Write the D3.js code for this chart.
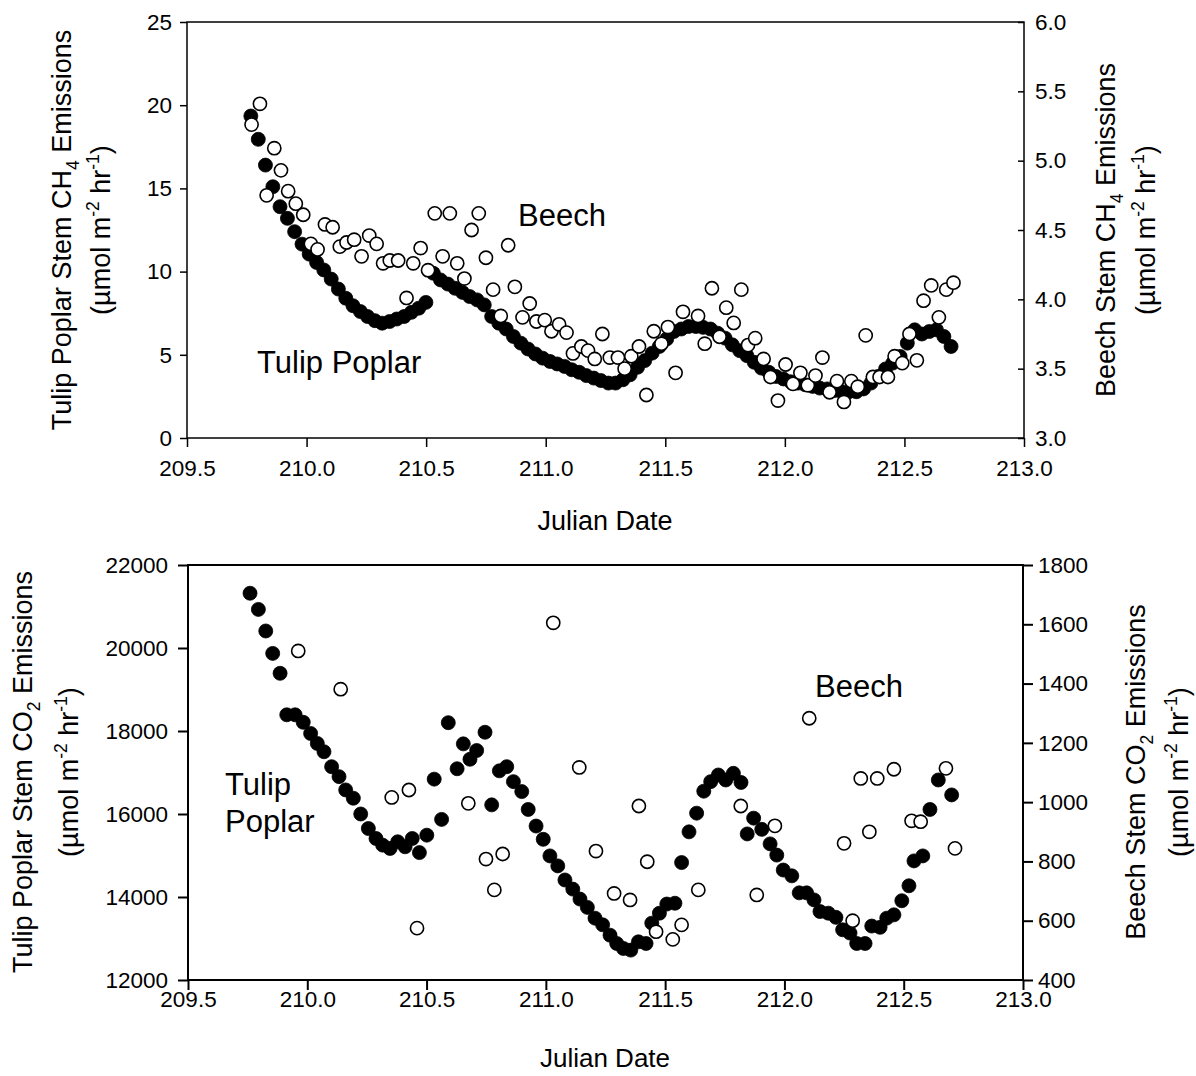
<!DOCTYPE html>
<html><head><meta charset="utf-8">
<script src="https://cdn.jsdelivr.net/npm/d3@7"></script>
<style>
body{margin:0;background:#fff}
text{font-family:"Liberation Sans",Arial,Helvetica,sans-serif;fill:#000}
</style>
</head><body>
<svg id="c" width="1196" height="1076"></svg>
<script>
// ---------- tick values ----------
const xTicks = [209.5, 210.0, 210.5, 211.0, 211.5, 212.0, 212.5, 213.0];
const ch4LeftTicks = [0, 5, 10, 15, 20, 25];
const ch4RightTicks = [3.0, 3.5, 4.0, 4.5, 5.0, 5.5, 6.0];
const co2LeftTicks = [12000, 14000, 16000, 18000, 20000, 22000];
const co2RightTicks = [400, 600, 800, 1000, 1200, 1400, 1600, 1800];

// ---------- CH4: Tulip Poplar (left axis) ----------
const ch4TulipDates = [
209.767,209.798,209.828,209.859,209.889,209.920,209.950,209.981,210.011,210.042,
210.072,210.103,210.133,210.164,210.194,210.225,210.255,210.286,210.316,210.347,
210.377,210.408,210.438,210.469,210.499,210.530,210.560,210.591,210.621,210.652,
210.682,210.713,210.743,210.774,210.804,210.835,210.865,210.896,210.926,210.957,
210.987,211.018,211.048,211.079,211.109,211.140,211.170,211.201,211.231,211.262,
211.292,211.323,211.353,211.384,211.414,211.445,211.475,211.506,211.536,211.567,
211.597,211.628,211.658,211.689,211.719,211.750,211.780,211.811,211.841,211.872,
211.902,211.933,211.963,211.994,212.024,212.055,212.085,212.116,212.146,212.177,
212.207,212.238,212.268,212.299,212.329,212.360,212.390,212.421,212.451,212.482,
212.512,212.543,212.573,212.604,212.634,212.665,212.695];
const ch4Tulip = [
19.35,17.95,16.4,15.1,13.9,13.2,12.4,11.65,11.05,10.55,
10.1,9.55,8.95,8.4,7.95,7.6,7.3,7.05,6.9,7.0,
7.15,7.3,7.55,7.8,8.15,9.9,9.5,9.25,9.0,8.75,
8.5,8.3,8.0,7.3,6.9,6.55,6.1,5.7,5.35,5.05,
4.8,4.6,4.45,4.3,4.1,3.95,3.75,3.6,3.45,3.3,
3.3,3.5,3.8,4.25,4.65,5.1,5.5,5.95,6.4,6.55,
6.7,6.7,6.65,6.55,6.3,6.0,5.6,5.25,4.95,4.55,
4.2,3.95,3.7,3.55,3.38,3.3,3.2,3.1,3.0,2.95,
2.85,2.78,2.78,2.78,2.95,3.3,3.7,4.15,4.5,4.9,
5.7,6.5,6.25,6.4,6.5,6.1,5.5];

// ---------- CH4: Beech (right axis) ----------
const ch4BeechDates = [
209.770,209.805,209.833,209.865,209.893,209.923,209.955,209.986,210.018,210.046,
210.077,210.109,210.139,210.167,210.199,210.230,210.262,210.293,210.320,210.348,
210.383,210.418,210.446,210.477,210.508,210.536,210.569,210.599,210.630,210.660,
210.690,210.720,210.750,210.780,210.812,210.843,210.871,210.903,210.933,210.961,
210.996,211.024,211.056,211.087,211.114,211.149,211.177,211.205,211.237,211.268,
211.302,211.330,211.358,211.390,211.421,211.452,211.484,211.511,211.543,211.574,
211.637,211.665,211.695,211.727,211.755,211.786,211.818,211.846,211.876,211.911,
211.940,211.971,212.003,212.034,212.065,212.096,212.128,212.157,212.187,212.218,
212.247,212.278,212.305,212.338,212.368,212.396,212.431,212.459,212.491,212.521,
212.552,212.580,212.612,212.644,212.675,212.705];
const ch4Beech = [
5.26,5.41,4.75,5.09,4.93,4.78,4.69,4.61,4.40,4.36,
4.54,4.52,4.38,4.41,4.43,4.31,4.46,4.40,4.26,4.28,
4.28,4.01,4.26,4.37,4.21,4.62,4.31,4.62,4.26,4.15,
4.50,4.62,4.30,4.07,3.88,4.39,4.09,3.87,3.97,3.84,
3.85,3.77,3.82,3.76,3.61,3.66,3.63,3.57,3.75,3.58,
3.58,3.50,3.59,3.66,3.31,3.77,3.68,3.80,3.47,3.91,
3.88,3.68,4.08,3.73,3.94,3.83,4.07,3.67,3.72,3.57,
3.44,3.27,3.53,3.39,3.47,3.38,3.45,3.58,3.33,3.41,
3.26,3.41,3.37,3.74,3.44,3.44,3.44,3.59,3.54,3.75,
3.56,3.99,4.10,3.87,4.07,4.12];

// ---------- CO2: Tulip Poplar (left axis) ----------
const co2TulipDates = [
209.760,209.795,209.826,209.855,209.886,209.914,209.949,209.983,210.014,210.042,
210.070,210.102,210.133,210.161,210.193,210.224,210.256,210.288,210.316,210.347,
210.379,210.410,210.440,210.470,210.501,210.532,210.563,210.591,210.628,210.654,
210.682,210.710,210.745,210.773,210.805,210.836,210.864,210.899,210.926,210.959,
210.989,211.017,211.050,211.080,211.113,211.143,211.174,211.206,211.238,211.269,
211.297,211.325,211.356,211.388,211.420,211.444,211.476,211.507,211.541,211.569,
211.600,211.632,211.662,211.691,211.723,211.754,211.786,211.818,211.844,211.871,
211.905,211.940,211.968,211.995,212.031,212.062,212.093,212.124,212.149,212.184,
212.216,212.244,212.275,212.303,212.338,212.366,212.401,212.429,212.459,212.492,
212.522,212.543,212.580,212.610,212.645,212.701];
const co2Tulip = [
21320,20930,20410,19870,19390,18390,18390,18210,17940,17700,
17500,17140,16900,16580,16380,16000,15650,15410,15250,15170,
15330,15210,15410,15070,15490,16840,15870,18200,17090,17690,
17320,17530,17970,16220,17040,17140,16780,16540,16110,15710,
15390,14990,14750,14410,14190,13950,13750,13490,13330,13080,
12880,12760,12720,12920,12880,13370,13610,13830,13850,14830,
15570,16020,16550,16780,16940,16820,16980,16760,15520,15900,
15630,15280,15010,14650,14510,14100,14100,13930,13650,13610,
13510,13210,13130,12880,12880,13300,13270,13490,13570,13910,
14270,14870,14990,16110,16820,16460];

// ---------- CO2: Beech (right axis) ----------
const co2BeechDates = [
209.962,210.140,210.354,210.426,210.460,210.675,210.749,210.784,210.819,211.031,
211.140,211.210,211.286,211.353,211.390,211.425,211.462,211.532,211.569,211.639,
211.817,211.884,211.960,212.104,212.250,212.286,212.320,212.356,212.389,212.459,
212.533,212.571,212.677,212.715];
const co2Beech = [
1510,1381,1016,1041,575,996,808,704,825,1605,
1117,835,692,670,987,799,563,537,586,704,
987,687,920,1283,861,600,1080,900,1080,1111,
937,934,1114,844];

// ---------- drawing ----------
const svg = d3.select("#c");
const FONT_TICK = 22.5, FONT_TITLE = 27, FONT_NOTE = 31;

function richText(sel, parts, fs) {
  let prev = null;
  parts.forEach(([t, type]) => {
    const ts = sel.append("tspan").text(t);
    if (type === "sub") ts.attr("font-size", fs * 0.65).attr("dy", fs * 0.28);
    else if (type === "sup") ts.attr("font-size", fs * 0.65).attr("dy", -fs * 0.42);
    else {
      if (prev === "sub") ts.attr("dy", -fs * 0.28);
      if (prev === "sup") ts.attr("dy", fs * 0.42);
    }
    prev = type;
  });
}

function vTitle(cx, cy, parts) {
  const t = svg.append("text")
    .attr("transform", `translate(${cx},${cy}) rotate(-90)`)
    .attr("text-anchor", "middle")
    .attr("font-size", FONT_TITLE);
  richText(t, parts, FONT_TITLE);
}

function panel(o) {
  const x = d3.scaleLinear().domain([209.5, 213]).range([o.x0, o.x1]);
  const yL = d3.scaleLinear().domain(o.leftDomain).range([o.y1, o.y0]);
  const yR = d3.scaleLinear().domain(o.rightDomain).range([o.y1, o.y0]);

  const styleAxis = (g, sw) => {
    g.select(".domain").remove();
    g.selectAll(".tick line").attr("stroke", "#000").attr("stroke-width", sw);
    g.selectAll(".tick text").attr("font-size", FONT_TICK)
      .attr("font-family", '"Liberation Sans",Arial,sans-serif').attr("fill", "#000");
  };

  const gx = svg.append("g").attr("transform", `translate(0,${o.y1})`)
    .call(d3.axisBottom(x).tickValues(xTicks).tickFormat(d3.format(".1f"))
      .tickSize(o.xTick).tickPadding(o.xPad).tickSizeOuter(0));
  styleAxis(gx, o.sw);

  const gl = svg.append("g").attr("transform", `translate(${o.x0},0)`)
    .call(d3.axisLeft(yL).tickValues(o.leftTicks).tickFormat(o.leftFmt)
      .tickSize(o.lTick).tickPadding(o.lPad).tickSizeOuter(0));
  styleAxis(gl, o.sw);

  const gr = svg.append("g").attr("transform", `translate(${o.x1},0)`)
    .call(d3.axisRight(yR).tickValues(o.rightTicks).tickFormat(o.rightFmt)
      .tickSize(o.rTick).tickPadding(o.rPad).tickSizeOuter(0));
  styleAxis(gr, o.sw);
  if (o.rInward) {
    gr.selectAll(".tick line").attr("x2", -o.rTick);
    gr.selectAll(".tick text").attr("x", o.rPad);
  }

  svg.append("rect").attr("x", o.x0).attr("y", o.y0)
    .attr("width", o.x1 - o.x0).attr("height", o.y1 - o.y0)
    .attr("fill", "none").attr("stroke", "#000").attr("stroke-width", o.sw);

  const tulip = d3.zip(o.tDates, o.tVals);
  const beech = d3.zip(o.bDates, o.bVals);

  svg.append("g").selectAll("circle").data(tulip).join("circle")
    .attr("cx", d => x(d[0])).attr("cy", d => yL(d[1])).attr("r", 7)
    .attr("fill", "#000").attr("stroke", "#000").attr("stroke-width", 0.8);

  svg.append("g").selectAll("circle").data(beech).join("circle")
    .attr("cx", d => x(d[0])).attr("cy", d => yR(d[1])).attr("r", 6.6)
    .attr("fill", "#fff").attr("stroke", "#000").attr("stroke-width", 1.6);

  return {x, yL, yR};
}

// Top panel (CH4)
panel({
  x0: 187, x1: 1024, y0: 22, y1: 438, sw: 1.5,
  leftDomain: [0, 25], rightDomain: [3, 6],
  leftTicks: ch4LeftTicks, rightTicks: ch4RightTicks,
  leftFmt: d3.format("d"), rightFmt: d3.format(".1f"),
  xTick: 9, xPad: 13, lTick: 7, lPad: 8, rTick: 6, rPad: 11, rInward: true,
  tDates: ch4TulipDates, tVals: ch4Tulip, bDates: ch4BeechDates, bVals: ch4Beech
});

// Bottom panel (CO2)
panel({
  x0: 188, x1: 1023, y0: 565, y1: 980, sw: 2,
  leftDomain: [12000, 22000], rightDomain: [400, 1800],
  leftTicks: co2LeftTicks, rightTicks: co2RightTicks,
  leftFmt: d3.format("d"), rightFmt: d3.format("d"),
  xTick: 10, xPad: 1, lTick: 10, lPad: 10, rTick: 10, rPad: 5, rInward: false,
  tDates: co2TulipDates, tVals: co2Tulip, bDates: co2BeechDates, bVals: co2Beech
});

// x-axis titles
svg.append("text").attr("x", 605).attr("y", 530).attr("text-anchor", "middle")
  .attr("font-size", FONT_TITLE).text("Julian Date");
svg.append("text").attr("x", 605).attr("y", 1067).attr("text-anchor", "middle")
  .attr("font-size", 26).text("Julian Date");

// y-axis titles
const unitParts = [["(µmol m", null], ["-2", "sup"], [" hr", null], ["-1", "sup"], [")", null]];
vTitle(71, 230, [["Tulip Poplar Stem CH", null], ["4", "sub"], [" Emissions", null]]);
vTitle(110, 230, unitParts);
vTitle(1115, 230, [["Beech Stem CH", null], ["4", "sub"], [" Emissions", null]]);
vTitle(1155, 230, unitParts);
vTitle(32, 772, [["Tulip Poplar Stem CO", null], ["2", "sub"], [" Emissions", null]]);
vTitle(78, 772, unitParts);
vTitle(1145, 772, [["Beech Stem CO", null], ["2", "sub"], [" Emissions", null]]);
vTitle(1188, 772, unitParts);

// annotations
const note = (x, y, t) => svg.append("text").attr("x", x).attr("y", y)
  .attr("font-size", FONT_NOTE).text(t);
note(518, 226, "Beech");
note(257, 373, "Tulip Poplar");
note(815, 697, "Beech");
note(225, 795, "Tulip");
note(225, 832, "Poplar");
</script>
</body></html>
